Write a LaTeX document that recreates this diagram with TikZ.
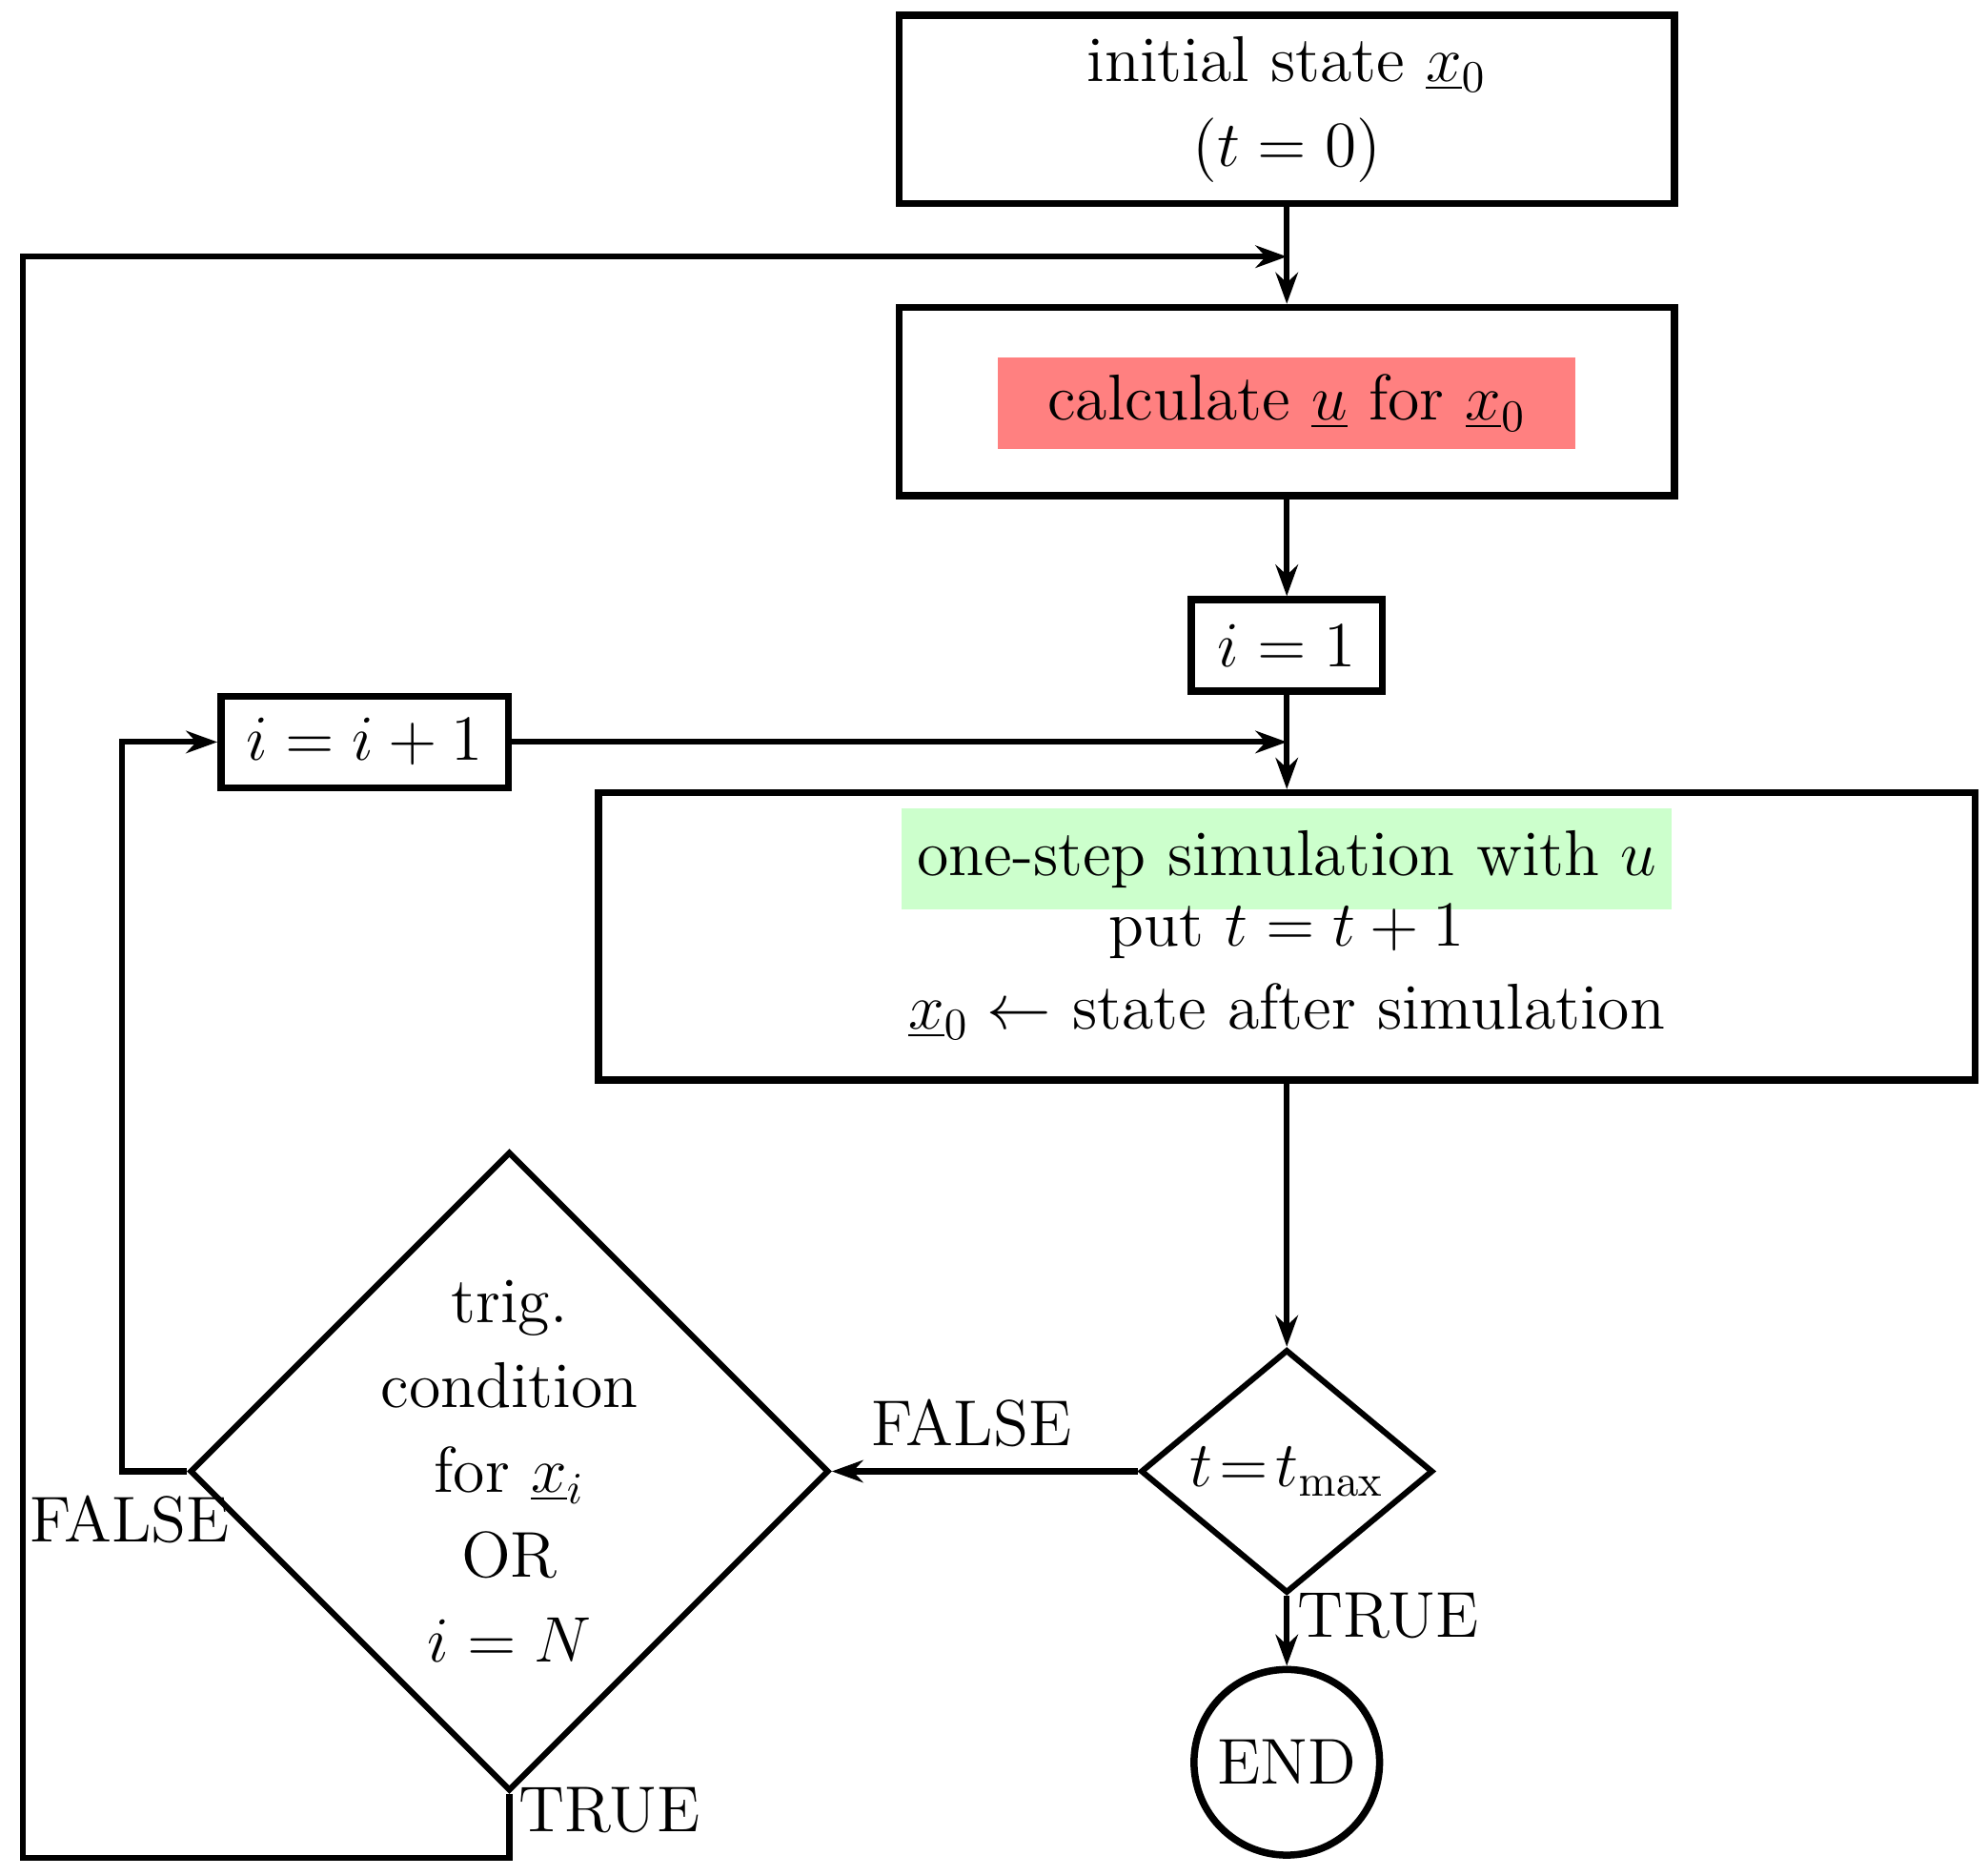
\documentclass[tikz,border=0pt]{standalone}
\usetikzlibrary{shapes.geometric,arrows.meta}
\begin{document}
\begin{tikzpicture}[x=0.01cm,y=-0.01cm,
  every node/.style={font=\fontsize{14.5}{19}\selectfont},
  box/.style={draw,line width=1.6pt,inner sep=0,align=center},
  dia/.style={draw,diamond,line width=1.3pt,inner sep=0,align=center},
  ln/.style={line width=1.3pt},
  ar/.style={line width=1.3pt,-{Stealth[length=7pt,width=5pt]}}]
\useasboundingbox (0,0) rectangle (1565,1476);
\node[box,minimum width=610\pgflinewidth/\pgflinewidth*0.01cm,minimum height=1.48cm] (b1) at (1013,86) {initial state $\underline{x}_0$\\$(t=0)$};
\node[box,minimum width=6.1cm,minimum height=1.48cm] (b2) at (1013,316) {};
\node[fill=red!50,minimum width=4.54cm,minimum height=0.72cm,inner sep=0] (r) at (1013,317) {calculate $\underline{u}$ for $\underline{x}_0$};
\node[box,minimum width=1.5cm,minimum height=0.72cm] (i1) at (1013,508) {$i=1$};
\node[box,minimum width=2.26cm,minimum height=0.72cm] (ii) at (287,584) {$i=i+1$};
\node[box,minimum width=10.83cm,minimum height=2.26cm] (sim) at (1013,737) {};
\node[fill=green!20,minimum width=6.06cm,minimum height=0.8cm,inner sep=0] (g) at (1013,676) {one-step simulation with $u$};
\node (p) at (1013,733) {put $t=t+1$};
\node (s) at (1013,796) {$\underline{x}_0\leftarrow$ state after simulation};
\node[dia,minimum width=2.3cm,minimum height=1.52cm] (d1) at (1013,1158) {$t\!=\!t_{\max}$};
\node[dia,minimum width=4.56cm,minimum height=4.6cm] (d2) at (401,1158) {trig.\\condition\\for $\underline{x}_i$\\OR\\$i=N$};
\node[draw,circle,line width=1.6pt,minimum size=1.46cm,inner sep=0] (end) at (1013,1387) {END};
\coordinate (j1) at (1013,202);
\coordinate (j2) at (1013,584);
\draw[ln] (b1) -- (j1);
\draw[ar] (j1) -- (b2);
\draw[ar] (b2) -- (i1);
\draw[ln] (i1) -- (j2);
\draw[ar] (j2) -- (sim.north);
\draw[ar] (ii) -- (j2);
\draw[ar] (sim.south) -- (d1.north);
\draw[ar] (d1.west) -- (d2.east);
\draw[ar] (d1.south) -- (end);
\draw[ar] (d2.west) -| (96,584) -- (ii.west);
\draw[ar] (d2.south) -- (401,1462) -| (18,202) -- (j1);
\node at (765,1120) {FALSE};
\node at (102,1196) {FALSE};
\node at (1093,1272) {TRUE};
\node at (480,1425) {TRUE};
\end{tikzpicture}
\end{document}
